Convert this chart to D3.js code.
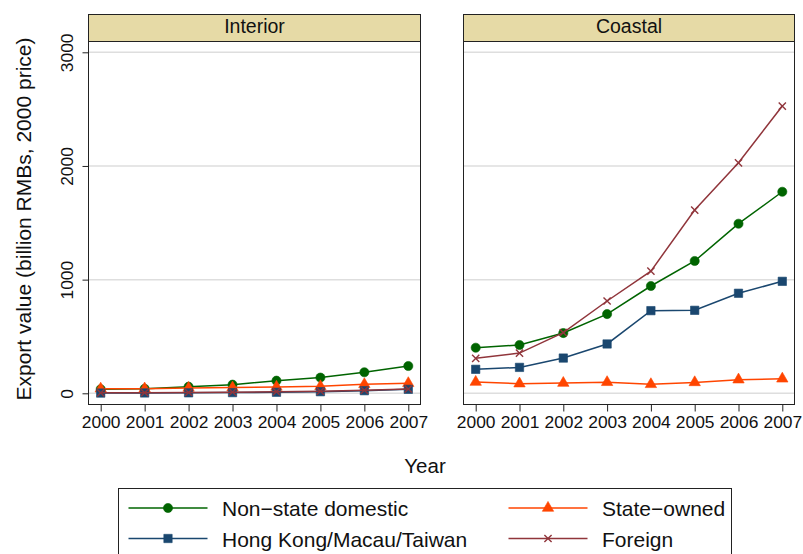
<!DOCTYPE html>
<html>
<head>
<meta charset="utf-8">
<script src="https://cdn.jsdelivr.net/npm/d3@7/dist/d3.min.js"></script>
<style>
  html, body { margin: 0; padding: 0; background: #fff; }
  svg { display: block; font-family: "Liberation Sans", Arial, Helvetica, sans-serif; }
</style>
</head>
<body>
<svg id="chart" width="803" height="554"></svg>
<script>
// Export value (billion RMBs, 2000 price) by ownership type, 2000-2007
const years = [2000, 2001, 2002, 2003, 2004, 2005, 2006, 2007];
const regions = ["Interior", "Coastal"];
const yTicks = [0, 1000, 2000, 3000];

// Interior provinces
const interiorNonState = [36, 40, 58, 76, 111, 138, 185, 240];
const interiorStateOwned = [40, 41, 47, 50, 56, 61, 79, 88];
const interiorHMT = [2, 3, 4, 6, 9, 14, 23, 35];
const interiorForeign = [4, 5, 7, 10, 14, 18, 27, 38];

// Coastal provinces
const coastalNonState = [401, 425, 530, 697, 944, 1164, 1492, 1773];
const coastalStateOwned = [99, 85, 90, 97, 79, 96, 120, 128];
const coastalHMT = [211, 228, 310, 434, 727, 730, 880, 985];
const coastalForeign = [308, 354, 533, 812, 1075, 1612, 2028, 2527];

const seriesNames = ["Non\u2212state domestic", "State\u2212owned", "Hong Kong/Macau/Taiwan", "Foreign"];
const seriesColors = ["#006400", "#ff4500", "#1a476f", "#90353b"];
const seriesMarkers = ["circle", "triangle", "square", "x"];

const panelData = {
  Interior: [interiorNonState, interiorStateOwned, interiorHMT, interiorForeign],
  Coastal: [coastalNonState, coastalStateOwned, coastalHMT, coastalForeign]
};

const svg = d3.select("#chart");

const panels = [
  { name: "Interior", left: 88.5, right: 420.5 },
  { name: "Coastal", left: 463.5, right: 794.5 }
];
const headerTop = 14.5, plotTop = 41.5, plotBottom = 404.5;

const y = d3.scaleLinear().domain([0, 3000]).range([393.3, 52.3]);

function markerPath(kind) {
  if (kind === "x") {
    const p = d3.path();
    p.moveTo(-3.6, -3.6); p.lineTo(3.6, 3.6);
    p.moveTo(-3.6, 3.6); p.lineTo(3.6, -3.6);
    return p.toString();
  }
  const sym = { circle: d3.symbolCircle, square: d3.symbolSquare, triangle: d3.symbolTriangle }[kind];
  const size = { circle: 66, square: 70, triangle: 56 }[kind];
  return d3.symbol().type(sym).size(size)();
}

function drawMarker(g, kind, color, cx, cy) {
  const path = g.append("path")
    .attr("d", markerPath(kind))
    .attr("transform", `translate(${cx},${cy})`);
  if (kind === "x") {
    path.attr("fill", "none").attr("stroke", color).attr("stroke-width", 1.4);
  } else {
    path.attr("fill", color).attr("stroke", color).attr("stroke-width", 0.6);
  }
}

panels.forEach((p, pi) => {
  const g = svg.append("g");
  const x = d3.scaleLinear().domain([2000, 2007]).range([p.left + 12.2, p.right - 12.2]);

  // plot background
  g.append("rect")
    .attr("x", p.left).attr("y", plotTop)
    .attr("width", p.right - p.left).attr("height", plotBottom - plotTop)
    .attr("fill", "#fff");

  // horizontal grid
  g.selectAll("line.grid").data(yTicks).join("line")
    .attr("class", "grid")
    .attr("x1", p.left).attr("x2", p.right)
    .attr("y1", d => y(d)).attr("y2", d => y(d))
    .attr("stroke", "#dedede").attr("stroke-width", 1.5);

  // series lines and markers
  const lineGen = d3.line().x((d, i) => x(years[i])).y(d => y(d));
  panelData[p.name].forEach((vals, si) => {
    g.append("path")
      .datum(vals)
      .attr("d", lineGen)
      .attr("fill", "none")
      .attr("stroke", seriesColors[si])
      .attr("stroke-width", 1.5);
    vals.forEach((v, i) => drawMarker(g, seriesMarkers[si], seriesColors[si], x(years[i]), y(v)));
  });

  // frame
  g.append("rect")
    .attr("x", p.left).attr("y", plotTop)
    .attr("width", p.right - p.left).attr("height", plotBottom - plotTop)
    .attr("fill", "none").attr("stroke", "#222").attr("stroke-width", 1);

  // header strip
  g.append("rect")
    .attr("x", p.left).attr("y", headerTop)
    .attr("width", p.right - p.left).attr("height", plotTop - headerTop)
    .attr("fill", "#e6daa6").attr("stroke", "#222").attr("stroke-width", 1);
  g.append("text")
    .attr("x", (p.left + p.right) / 2).attr("y", 32.5)
    .attr("text-anchor", "middle")
    .attr("font-size", 19.5).attr("fill", "#111")
    .text(regions[pi]);

  // x axis
  const xAxis = d3.axisBottom(x).tickValues(years).tickFormat(d3.format("d")).tickSize(7).tickPadding(4);
  const gx = g.append("g").attr("transform", `translate(0,${plotBottom})`).call(xAxis);
  gx.select(".domain").remove();
  gx.selectAll(".tick line").attr("stroke", "#222");
  gx.selectAll(".tick text").attr("font-size", 17.4).attr("fill", "#111")
    .attr("font-family", "\"Liberation Sans\", Arial, sans-serif");

  // y axis on the first panel only
  if (pi === 0) {
    const yAxis = d3.axisLeft(y).tickValues(yTicks).tickSize(6).tickFormat(d3.format("d"));
    const gy = g.append("g").attr("transform", `translate(${p.left},0)`).call(yAxis);
    gy.select(".domain").remove();
    gy.selectAll(".tick line").attr("stroke", "#222");
    gy.selectAll(".tick text")
      .attr("font-size", 17.4).attr("fill", "#111")
      .attr("font-family", "\"Liberation Sans\", Arial, sans-serif")
      .attr("x", null).attr("dy", null)
      .attr("text-anchor", "middle")
      .attr("transform", "translate(-15.5,0) rotate(-90)");
  }
});

// axis titles
svg.append("text")
  .attr("transform", "translate(31,219) rotate(-90)")
  .attr("text-anchor", "middle")
  .attr("font-size", 21).attr("fill", "#111")
  .text("Export value (billion RMBs, 2000 price)");

svg.append("text")
  .attr("x", 425).attr("y", 473)
  .attr("text-anchor", "middle")
  .attr("font-size", 20.5).attr("fill", "#111")
  .text("Year");

// legend
const legend = svg.append("g");
legend.append("rect")
  .attr("x", 118.5).attr("y", 488.5)
  .attr("width", 613).attr("height", 80)
  .attr("fill", "#fff").attr("stroke", "#222").attr("stroke-width", 1);

const legendCols = [128.5, 508.5];
const legendRows = [508, 538.5];
// row-major order: Non-state, State-owned / HMT, Foreign
seriesNames.forEach((name, si) => {
  const cx = legendCols[si % 2];
  const cy = legendRows[Math.floor(si / 2)];
  legend.append("line")
    .attr("x1", cx).attr("x2", cx + 79)
    .attr("y1", cy).attr("y2", cy)
    .attr("stroke", seriesColors[si]).attr("stroke-width", 1.5);
  drawMarker(legend, seriesMarkers[si], seriesColors[si], cx + 39.5, cy);
  legend.append("text")
    .attr("x", cx + 93.5).attr("y", cy + 8)
    .attr("font-size", 21).attr("fill", "#111")
    .text(name);
});
</script>
</body>
</html>
